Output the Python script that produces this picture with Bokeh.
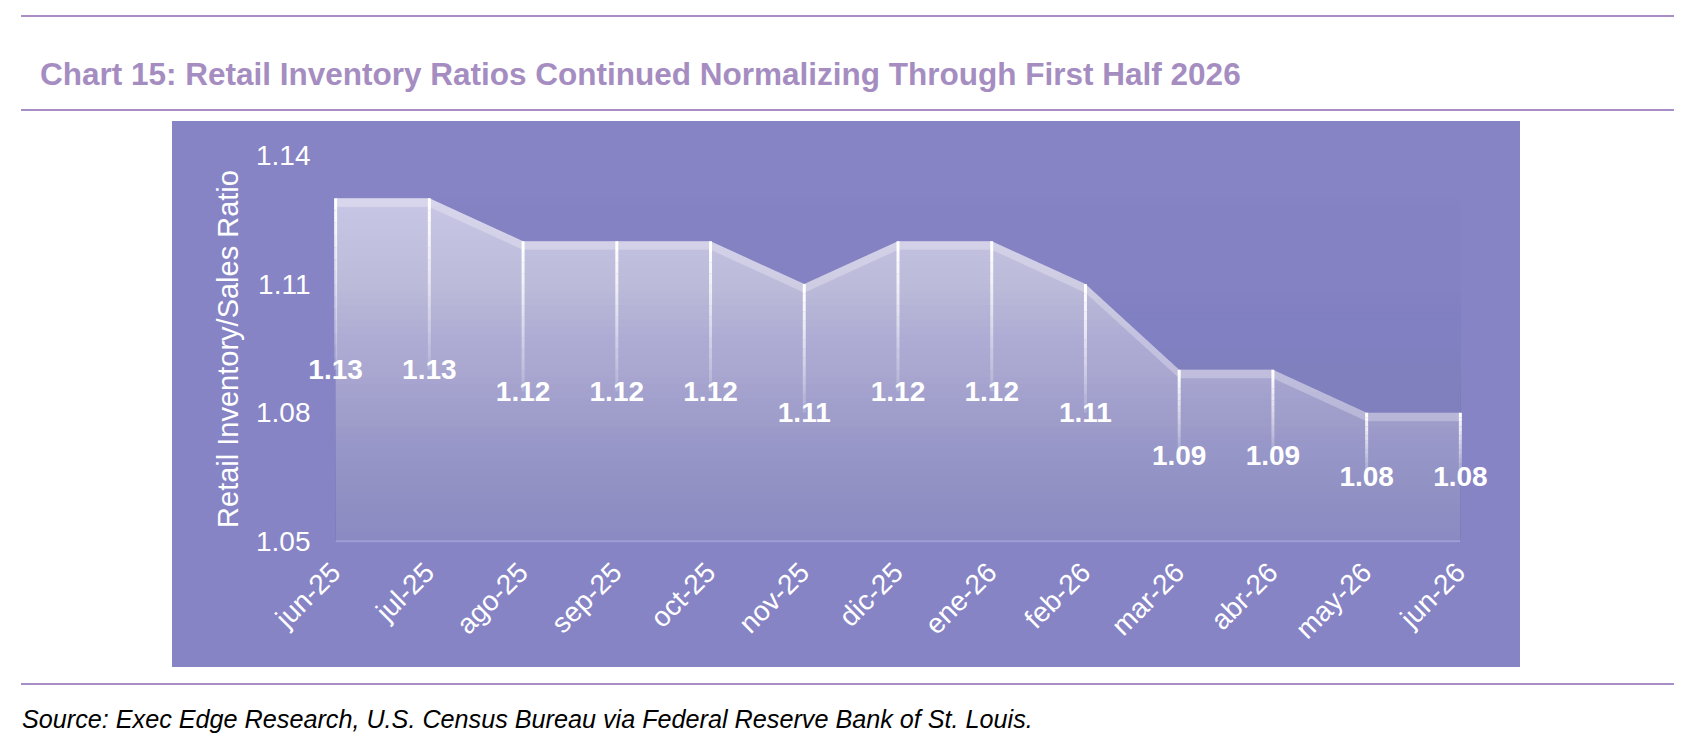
import math
import numpy as np
from bokeh.plotting import figure
from bokeh.models import (ColumnDataSource, Range1d, FixedTicker, PrintfTickFormatter,
                          Div, LabelSet)
from bokeh.layouts import column
from bokeh.embed import file_html
from bokeh.resources import INLINE
from bokeh.core.properties import value

# ---------------- data ----------------
months = ["jun-25", "jul-25", "ago-25", "sep-25", "oct-25", "nov-25", "dic-25",
          "ene-26", "feb-26", "mar-26", "abr-26", "may-26", "jun-26"]
ratios = [1.13, 1.13, 1.12, 1.12, 1.12, 1.11, 1.12, 1.12, 1.11, 1.09, 1.09, 1.08, 1.08]
y_ticks = [1.05, 1.08, 1.11, 1.14]
title_text = "Chart 15: Retail Inventory Ratios Continued Normalizing Through First Half 2026"
y_title = "Retail Inventory/Sales Ratio"
source_text = "Source: Exec Edge Research, U.S. Census Bureau via Federal Reserve Bank of St. Louis."

# ---------------- styles ----------------
PANEL = "#8784C5"
AREA_TOP = "#CBC9E6"
RULE = "#A88EC4"
TITLE_C = "#A58DC1"
AXIS_LINE = "#A19DD6"
FONT = "Liberation Sans"
N_LAYERS = 48
T_MAX = 0.82
TOP_BAND = 0.002
FADE_PIECES = 14
X_PAD = 0.3       # room so the end labels are not clipped
Y_PAD = 0.0003    # keeps the 2px baseline fully visible

x = np.arange(len(months))
y = np.array(ratios)
base = y_ticks[0]
ymax = y_ticks[-1]

p = figure(width=1348, height=546,
           x_range=Range1d(x[0] - X_PAD, x[-1] + X_PAD),
           y_range=Range1d(base - Y_PAD, ymax),
           output_backend="svg", toolbar_location=None,
           min_border_left=135, min_border_right=32, min_border_top=34, min_border_bottom=125,
           background_fill_color=PANEL, border_fill_color=PANEL, outline_line_color=None,
           margin=(0, 0, 0, 172))
p.styles = {"background-color": PANEL}
p.xgrid.grid_line_color = None
p.ygrid.grid_line_color = None

# area
p.varea(x=x, y1=base, y2=y, fill_color=AREA_TOP, fill_alpha=1.0)

# vertical gradient: stacked panel-colour layers (invisible outside the area)
top_v = y.max()
tops, alphas = [], []
prev_t = 0.0
for r in range(1, N_LAYERS + 1):           # r = 1 is the highest layer
    t = T_MAX * r / N_LAYERS
    a = 1 - (1 - t) / (1 - prev_t)
    prev_t = t
    tops.append(base + (top_v - base) * (N_LAYERS - r + 1) / N_LAYERS)
    alphas.append(a)
p.quad(left=x[0], right=x[-1], bottom=base, top=tops,
       fill_color=PANEL, fill_alpha=alphas, line_color=None)

# lighter band along top edge
p.varea(x=x, y1=y - TOP_BAND, y2=y, fill_color="white", fill_alpha=0.27)

# baseline (category axis line) from first to last month
p.line(x=[x[0], x[-1]], y=[base, base], line_color=AXIS_LINE, line_width=2)

# fading drop lines
mid = (y + base) / 2
sx, sy0, sy1, sa = [], [], [], []
for i in range(len(x)):
    for k in range(FADE_PIECES):
        f0 = k / FADE_PIECES
        f1 = (k + 1) / FADE_PIECES
        sx.append(x[i])
        sy0.append(y[i] - (y[i] - mid[i]) * f0)
        sy1.append(y[i] - (y[i] - mid[i]) * f1)
        sa.append(1 - 0.9 * f0)
p.segment(x0=sx, y0=sy0, x1=sx, y1=sy1, line_color="white", line_width=3, line_alpha=sa)

# data labels
lab_src = ColumnDataSource(dict(x=x, y=mid, t=[f"{v:.2f}" for v in ratios]))
labels = LabelSet(x="x", y="y", text="t", source=lab_src, text_color="white",
                  text_font=value(FONT), text_font_style="bold", text_font_size="28px",
                  text_align="center", text_baseline="middle")
p.add_layout(labels)

# axes
xa = p.xaxis[0]
xa.ticker = FixedTicker(ticks=[int(i) for i in x])
xa.major_label_overrides = {int(i): m for i, m in zip(x, months)}
xa.major_label_orientation = math.pi / 4
xa.major_label_text_color = "white"
xa.major_label_text_font = FONT
xa.major_label_text_font_size = "28px"
xa.major_tick_line_color = None
xa.minor_tick_line_color = None
xa.axis_line_color = None
xa.major_label_standoff = 19

ya = p.yaxis[0]
ya.ticker = FixedTicker(ticks=y_ticks)
ya.formatter = PrintfTickFormatter(format="%.2f")
ya.axis_line_color = None
ya.major_tick_line_color = None
ya.minor_tick_line_color = None
ya.major_label_text_color = "white"
ya.major_label_text_font = FONT
ya.major_label_text_font_size = "28px"
ya.major_label_standoff = -9
ya.axis_label = y_title
ya.axis_label_text_color = "white"
ya.axis_label_text_font = FONT
ya.axis_label_text_font_size = "29px"
ya.axis_label_text_font_style = "normal"
ya.axis_label_standoff = 9

# page furniture
ff = "'Liberation Sans', Arial, sans-serif"
top_html = f'''<div style="position:relative;width:1681px;height:121px;">
<div style="position:absolute;left:21px;top:15px;width:1653px;height:2px;background:{RULE};"></div>
<div style="position:absolute;left:40px;top:59px;white-space:nowrap;font-family:{ff};font-weight:bold;font-size:31.5px;line-height:31px;color:{TITLE_C};">{title_text}</div>
<div style="position:absolute;left:21px;top:109px;width:1653px;height:2px;background:{RULE};"></div>
</div>'''
bottom_html = f'''<div style="position:relative;width:1681px;height:72px;">
<div style="position:absolute;left:21px;top:16px;width:1653px;height:2px;background:{RULE};"></div>
<div style="position:absolute;left:22px;top:40px;white-space:nowrap;font-family:{ff};font-style:italic;font-size:25.2px;line-height:25px;color:#000000;">{source_text}</div>
</div>'''
top_div = Div(text=top_html, width=1681, height=121, margin=0)
bottom_div = Div(text=bottom_html, width=1681, height=72, margin=0)

layout = column(top_div, p, bottom_div, spacing=0)
open("out.html", "w").write(file_html(layout, INLINE))
